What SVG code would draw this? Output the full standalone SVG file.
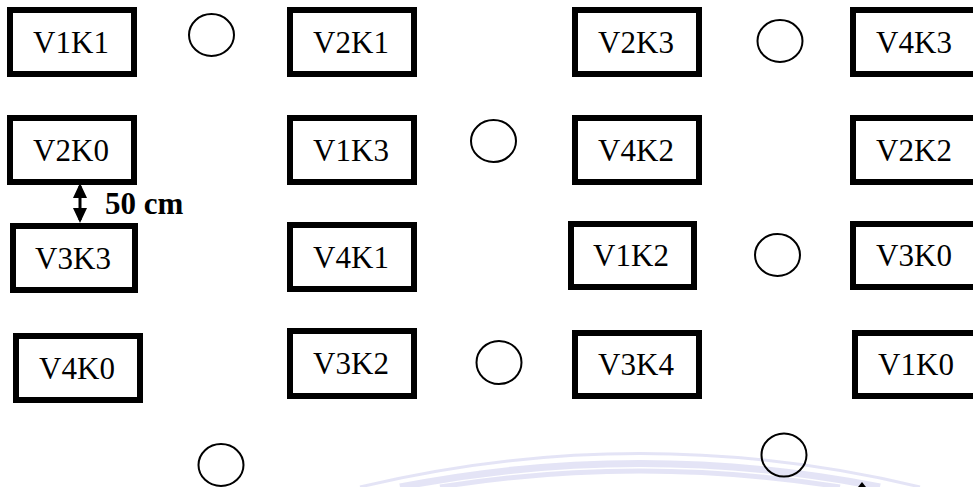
<svg xmlns="http://www.w3.org/2000/svg" width="973" height="487" viewBox="0 0 973 487">
  <style>
    .plot rect { fill: #ffffff; stroke: #000000; stroke-width: 6; }
    .plot text { font-family: "Liberation Serif", "Times New Roman", serif; font-size: 31px; fill: #000000; text-anchor: middle; }
    .tree { fill: none; stroke: #000000; stroke-width: 2; }
    .dim { stroke: #000000; stroke-width: 3; fill: none; }
    .dimlabel { font-family: "Liberation Serif", "Times New Roman", serif; font-size: 31px; font-weight: bold; fill: #000000; }
    .wm { fill: none; stroke: #e2e2f6; }
  </style>
  <defs>
    <marker id="head" viewBox="0 0 14 15" refX="7" refY="0" markerWidth="14" markerHeight="15" markerUnits="userSpaceOnUse" orient="auto-start-reverse">
      <path d="M0,15 L7,0 L14,15 Z" fill="#000000" transform="rotate(90 7 7.5)"/>
    </marker>
  </defs>

  <rect width="973" height="487" fill="#ffffff"/>

  <!-- faint background emblem arcs -->
  <g id="emblem" opacity="0.9">
    <path class="wm" stroke-width="3" d="M360,487 Q640,420 920,487"/>
    <path class="wm" stroke-width="7" d="M400,487 Q640,440 880,487"/>
    <path class="wm" stroke-width="5" d="M440,487 Q640,455 840,487"/>
  </g>

  <!-- plots, row 1 -->
  <g id="p-V1K1" class="plot"><rect x="10" y="10" width="124" height="64"/><text x="71" y="53">V1K1</text></g>
  <g id="p-V2K1" class="plot"><rect x="290" y="10" width="124" height="64"/><text x="351" y="53">V2K1</text></g>
  <g id="p-V2K3" class="plot"><rect x="575" y="10" width="124" height="64"/><text x="636" y="53">V2K3</text></g>
  <g id="p-V4K3" class="plot"><rect x="853" y="10" width="124" height="64"/><text x="914" y="53">V4K3</text></g>

  <!-- plots, row 2 -->
  <g id="p-V2K0" class="plot"><rect x="10" y="118" width="124" height="64"/><text x="71" y="161">V2K0</text></g>
  <g id="p-V1K3" class="plot"><rect x="290" y="118" width="124" height="64"/><text x="351" y="161">V1K3</text></g>
  <g id="p-V4K2" class="plot"><rect x="575" y="118" width="124" height="64"/><text x="636" y="161">V4K2</text></g>
  <g id="p-V2K2" class="plot"><rect x="853" y="118" width="124" height="64"/><text x="914" y="161">V2K2</text></g>

  <!-- plots, row 3 -->
  <g id="p-V3K3" class="plot"><rect x="13" y="226" width="122" height="64"/><text x="73" y="269">V3K3</text></g>
  <g id="p-V4K1" class="plot"><rect x="290" y="225" width="124" height="64"/><text x="351" y="268">V4K1</text></g>
  <g id="p-V1K2" class="plot"><rect x="571" y="224" width="123" height="63"/><text x="631" y="266">V1K2</text></g>
  <g id="p-V3K0" class="plot"><rect x="853" y="224" width="124" height="63"/><text x="914" y="266">V3K0</text></g>

  <!-- plots, row 4 -->
  <g id="p-V4K0" class="plot"><rect x="16" y="336" width="124" height="64"/><text x="77" y="379">V4K0</text></g>
  <g id="p-V3K2" class="plot"><rect x="290" y="331" width="124" height="65"/><text x="351" y="374">V3K2</text></g>
  <g id="p-V3K4" class="plot"><rect x="575" y="333" width="124" height="63"/><text x="636" y="375">V3K4</text></g>
  <g id="p-V1K0" class="plot"><rect x="855" y="333" width="124" height="63"/><text x="916" y="375">V1K0</text></g>

  <!-- trees -->
  <g id="trees">
    <ellipse id="t1" class="tree" cx="211.5" cy="35" rx="22.5" ry="21"/>
    <ellipse id="t2" class="tree" cx="493.5" cy="141" rx="22.5" ry="21"/>
    <ellipse id="t3" class="tree" cx="780" cy="41" rx="22.5" ry="21"/>
    <ellipse id="t4" class="tree" cx="777.5" cy="255" rx="22.5" ry="21"/>
    <ellipse id="t5" class="tree" cx="499" cy="362.5" rx="22.5" ry="21.5"/>
    <ellipse id="t6" class="tree" cx="221" cy="465" rx="22.5" ry="21"/>
    <ellipse id="t7" class="tree" cx="784" cy="455" rx="22.5" ry="21.5"/>
  </g>

  <!-- spacing dimension -->
  <g id="connectors">
    <line class="dim" x1="80" y1="186" x2="80" y2="220"/>
    <path d="M80,183 L73,198 L87,198 Z" fill="#000000"/>
    <path d="M80,223 L73,208 L87,208 Z" fill="#000000"/>
    <path d="M862,482 L858,487 L866,487 Z" fill="#000000"/>
  </g>
  <text class="dimlabel" x="105" y="214">50 cm</text>
</svg>
